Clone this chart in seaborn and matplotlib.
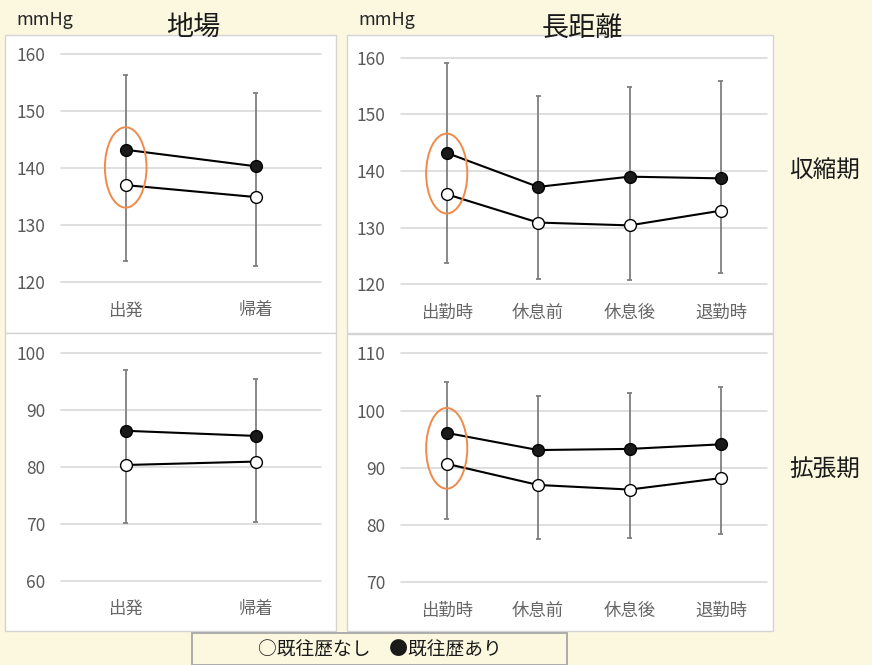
import matplotlib
matplotlib.use("Agg")
import matplotlib.pyplot as plt
from matplotlib.patches import Rectangle, Ellipse
import seaborn as sns

# categories
jiba_cats = ["出発", "帰着"]
long_cats = ["出勤時", "休息前", "休息後", "退勤時"]

# systolic, 地場
sys_jiba_ari = [143.2, 140.3]
sys_jiba_nashi = [137.0, 134.9]
sys_jiba_upper = [156.4, 153.2]
sys_jiba_lower = [123.6, 122.8]

# systolic, 長距離
sys_long_ari = [143.2, 137.2, 139.0, 138.7]
sys_long_nashi = [135.9, 130.9, 130.4, 133.0]
sys_long_upper = [159.0, 153.3, 154.8, 155.8]
sys_long_lower = [123.8, 120.9, 120.8, 122.0]

# diastolic, 地場
dia_jiba_ari = [86.3, 85.4]
dia_jiba_nashi = [80.3, 80.9]
dia_jiba_upper = [96.9, 95.3]
dia_jiba_lower = [70.1, 70.3]

# diastolic, 長距離
dia_long_ari = [96.1, 93.1, 93.3, 94.1]
dia_long_nashi = [90.7, 87.0, 86.2, 88.2]
dia_long_upper = [105.0, 102.5, 103.1, 104.2]
dia_long_lower = [81.1, 77.5, 77.8, 78.5]

sys_ticks = [120, 130, 140, 150, 160]
dia_jiba_ticks = [60, 70, 80, 90, 100]
dia_long_ticks = [70, 80, 90, 100, 110]

sns.set_style("white")
plt.rcParams['font.family'] = ['Noto Sans CJK JP', 'DejaVu Sans']

W, H = 872, 665
BG = "#FCF8E0"
fig = plt.figure(figsize=(W / 100, H / 100), dpi=100, facecolor=BG)


def px_box(x0, y0, x1, y1):
    return [x0 / W, 1 - y1 / H, (x1 - x0) / W, (y1 - y0) / H]


# white panels
for x0, y0, x1, y1 in [(5, 35, 336, 333), (347, 35, 773, 333),
                       (5, 333, 336, 631), (347, 334, 773, 631)]:
    fig.patches.append(Rectangle((x0 / W, 1 - y1 / H), (x1 - x0) / W, (y1 - y0) / H,
                                 transform=fig.transFigure, facecolor="white",
                                 edgecolor="#D4D4D4", linewidth=1, zorder=-5))


def panel(box, cats, ari, nashi, upper, lower, ticks):
    ax = fig.add_axes(px_box(*box))
    ax.patch.set_alpha(0)
    pos = list(range(len(cats)))
    # cap half-width of ~2.5 px in data units
    half = 2.5 / ((box[2] - box[0]) / len(cats))
    for t in ticks:
        ax.axhline(t, color="#D9D9D9", linewidth=1.2, zorder=0, clip_on=False)
    ax.vlines(pos, lower, upper, color="#7F7F7F", linewidth=1.3, zorder=1)
    ax.hlines(upper, [p - half for p in pos], [p + half for p in pos],
              color="#7F7F7F", linewidth=1.3)
    ax.hlines(lower, [p - half for p in pos], [p + half for p in pos],
              color="#7F7F7F", linewidth=1.3)
    sns.pointplot(x=cats, y=ari, color="black", markers="o", errorbar=None,
                  linewidth=1.5, markersize=8.5, markerfacecolor="#1A1A1A",
                  markeredgecolor="black", markeredgewidth=1, ax=ax)
    sns.pointplot(x=cats, y=nashi, color="black", markers="o", errorbar=None,
                  linewidth=1.5, markersize=8.5, markerfacecolor="white",
                  markeredgecolor="black", markeredgewidth=1, ax=ax)
    for ln in ax.lines[-2:]:
        ln.set_zorder(3)
    ax.set_xlim(-0.5, len(cats) - 0.5)
    ax.set_ylim(ticks[0], ticks[-1])
    ax.set_yticks(ticks)
    ax.set_xticks(pos)
    ax.set_xticklabels(cats)
    ax.tick_params(axis="y", length=0, pad=11, labelsize=12.5, labelcolor="#595959")
    ax.tick_params(axis="x", length=0, pad=14, labelsize=12.5, labelcolor="#666666")
    for s in ax.spines.values():
        s.set_visible(False)
    ax.set_xlabel("")
    ax.set_ylabel("")
    return ax


ax1 = panel((60.7, 54, 320.7, 282), jiba_cats, sys_jiba_ari, sys_jiba_nashi,
            sys_jiba_upper, sys_jiba_lower, sys_ticks)
ax2 = panel((401, 57.7, 766.7, 284.3), long_cats, sys_long_ari, sys_long_nashi,
            sys_long_upper, sys_long_lower, sys_ticks)
ax3 = panel((60.7, 352.7, 320.7, 580.7), jiba_cats, dia_jiba_ari, dia_jiba_nashi,
            dia_jiba_upper, dia_jiba_lower, dia_jiba_ticks)
ax4 = panel((401, 353.3, 766.7, 582.3), long_cats, dia_long_ari, dia_long_nashi,
            dia_long_upper, dia_long_lower, dia_long_ticks)

# orange ellipses around the first time point
for ax, w, ari, nashi in [(ax1, 0.32, sys_jiba_ari, sys_jiba_nashi),
                          (ax2, 0.45, sys_long_ari, sys_long_nashi),
                          (ax4, 0.45, dia_long_ari, dia_long_nashi)]:
    ax.add_patch(Ellipse((0, (ari[0] + nashi[0]) / 2), w, 14.1, fill=False,
                         edgecolor="#F08A4B", linewidth=1.4, zorder=4))

# titles and unit labels
fig.text(16 / W, 1 - 20 / H, "mmHg", fontsize=13, color="#262626", va="center", ha="left")
fig.text(358 / W, 1 - 20 / H, "mmHg", fontsize=13, color="#262626", va="center", ha="left")
fig.text(193 / W, 1 - 28 / H, "地場", fontsize=19.5, color="#1A1A1A", va="center", ha="center")
fig.text(582 / W, 1 - 28 / H, "長距離", fontsize=19.5, color="#1A1A1A", va="center", ha="center")
fig.text(825 / W, 1 - 171 / H, "収縮期", fontsize=17, color="#1A1A1A", va="center", ha="center")
fig.text(825 / W, 1 - 470 / H, "拡張期", fontsize=17, color="#1A1A1A", va="center", ha="center")

# legend box
fig.patches.append(Rectangle((192 / W, 0), (567 - 192) / W, (665 - 632.5) / H,
                             transform=fig.transFigure, facecolor=BG,
                             edgecolor="#A6A6A6", linewidth=1.3, zorder=-5))
fig.text(380 / W, 1 - 650 / H, "○既往歴なし　●既往歴あり", fontsize=13.5, color="#1A1A1A",
         va="center", ha="center")

fig.savefig("out.png", dpi=100, facecolor=BG)
